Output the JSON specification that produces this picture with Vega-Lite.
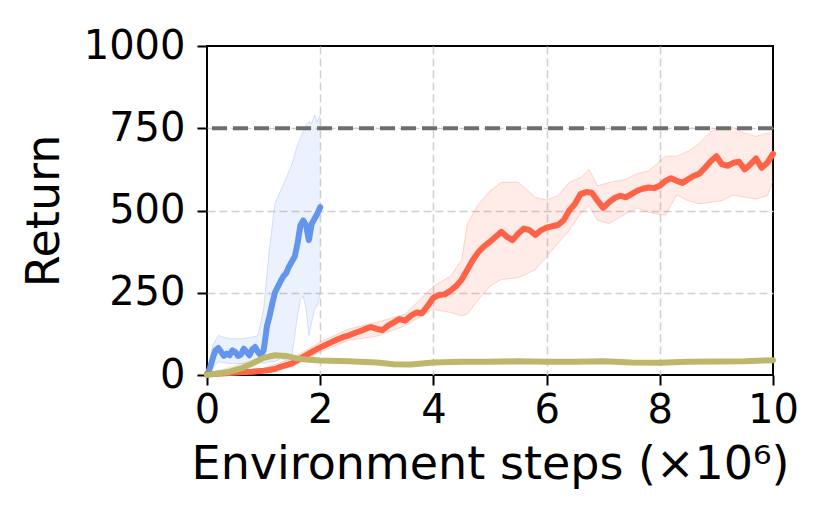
{
  "$schema": "https://vega.github.io/schema/vega-lite/v6.json",
  "width": 566,
  "height": 329,
  "autosize": {"type": "none"},
  "padding": {"left": 207, "top": 46, "right": 57, "bottom": 144},
  "background": "white",
  "config": {
    "view": {"stroke": "black", "strokeWidth": 2},
    "font": "DejaVu Sans",
    "axis": {
      "domain": false,
      "tickColor": "black",
      "tickWidth": 2,
      "tickSize": 10,
      "labelFont": "DejaVu Sans",
      "labelFontSize": 40,
      "labelColor": "black",
      "labelFlush": false,
      "titleFont": "DejaVu Sans",
      "titleFontSize": 46,
      "titleFontWeight": "normal",
      "titleColor": "black",
      "gridColor": "#d0d0d0",
      "gridWidth": 1.5,
      "gridDash": [8, 4]
    }
  },
  "datasets": {
    "lines": [
      {"series": "blue", "x": 0.0, "y": 0}, {"series": "blue", "x": 0.05, "y": 20}, {"series": "blue", "x": 0.1, "y": 50}, {"series": "blue", "x": 0.15, "y": 75}, {"series": "blue", "x": 0.2, "y": 82}, {"series": "blue", "x": 0.25, "y": 70}, {"series": "blue", "x": 0.3, "y": 58}, {"series": "blue", "x": 0.35, "y": 65}, {"series": "blue", "x": 0.4, "y": 60}, {"series": "blue", "x": 0.45, "y": 75}, {"series": "blue", "x": 0.5, "y": 70}, {"series": "blue", "x": 0.55, "y": 58}, {"series": "blue", "x": 0.6, "y": 62}, {"series": "blue", "x": 0.65, "y": 80}, {"series": "blue", "x": 0.7, "y": 70}, {"series": "blue", "x": 0.75, "y": 60}, {"series": "blue", "x": 0.8, "y": 78}, {"series": "blue", "x": 0.85, "y": 85}, {"series": "blue", "x": 0.9, "y": 70}, {"series": "blue", "x": 0.95, "y": 60}, {"series": "blue", "x": 1.0, "y": 75}, {"series": "blue", "x": 1.03, "y": 110}, {"series": "blue", "x": 1.06, "y": 150}, {"series": "blue", "x": 1.1, "y": 175}, {"series": "blue", "x": 1.15, "y": 215}, {"series": "blue", "x": 1.2, "y": 250}, {"series": "blue", "x": 1.25, "y": 268}, {"series": "blue", "x": 1.3, "y": 285}, {"series": "blue", "x": 1.35, "y": 300}, {"series": "blue", "x": 1.4, "y": 310}, {"series": "blue", "x": 1.45, "y": 330}, {"series": "blue", "x": 1.5, "y": 345}, {"series": "blue", "x": 1.55, "y": 360}, {"series": "blue", "x": 1.6, "y": 400}, {"series": "blue", "x": 1.65, "y": 455}, {"series": "blue", "x": 1.7, "y": 470}, {"series": "blue", "x": 1.75, "y": 455}, {"series": "blue", "x": 1.8, "y": 410}, {"series": "blue", "x": 1.85, "y": 460}, {"series": "blue", "x": 1.9, "y": 475}, {"series": "blue", "x": 1.95, "y": 490}, {"series": "blue", "x": 2.0, "y": 510},

      {"series": "red", "x": 0.0, "y": 2}, {"series": "red", "x": 0.2, "y": 4}, {"series": "red", "x": 0.4, "y": 6}, {"series": "red", "x": 0.6, "y": 8}, {"series": "red", "x": 0.8, "y": 10}, {"series": "red", "x": 1.0, "y": 13}, {"series": "red", "x": 1.1, "y": 15}, {"series": "red", "x": 1.2, "y": 18}, {"series": "red", "x": 1.3, "y": 25}, {"series": "red", "x": 1.4, "y": 30}, {"series": "red", "x": 1.5, "y": 35}, {"series": "red", "x": 1.6, "y": 45}, {"series": "red", "x": 1.7, "y": 55}, {"series": "red", "x": 1.8, "y": 65}, {"series": "red", "x": 1.9, "y": 75}, {"series": "red", "x": 2.0, "y": 84}, {"series": "red", "x": 2.1, "y": 92}, {"series": "red", "x": 2.2, "y": 100}, {"series": "red", "x": 2.3, "y": 108}, {"series": "red", "x": 2.4, "y": 115}, {"series": "red", "x": 2.5, "y": 120}, {"series": "red", "x": 2.6, "y": 127}, {"series": "red", "x": 2.7, "y": 133}, {"series": "red", "x": 2.8, "y": 140}, {"series": "red", "x": 2.9, "y": 146}, {"series": "red", "x": 3.0, "y": 140}, {"series": "red", "x": 3.1, "y": 136}, {"series": "red", "x": 3.2, "y": 150}, {"series": "red", "x": 3.3, "y": 160}, {"series": "red", "x": 3.4, "y": 170}, {"series": "red", "x": 3.5, "y": 165}, {"series": "red", "x": 3.6, "y": 180}, {"series": "red", "x": 3.7, "y": 190}, {"series": "red", "x": 3.8, "y": 188}, {"series": "red", "x": 3.9, "y": 210}, {"series": "red", "x": 4.0, "y": 235}, {"series": "red", "x": 4.1, "y": 243}, {"series": "red", "x": 4.2, "y": 245}, {"series": "red", "x": 4.3, "y": 256}, {"series": "red", "x": 4.4, "y": 270}, {"series": "red", "x": 4.5, "y": 290}, {"series": "red", "x": 4.6, "y": 320}, {"series": "red", "x": 4.7, "y": 350}, {"series": "red", "x": 4.8, "y": 375}, {"series": "red", "x": 4.9, "y": 392}, {"series": "red", "x": 5.0, "y": 405}, {"series": "red", "x": 5.1, "y": 420}, {"series": "red", "x": 5.2, "y": 435}, {"series": "red", "x": 5.3, "y": 420}, {"series": "red", "x": 5.4, "y": 410}, {"series": "red", "x": 5.5, "y": 430}, {"series": "red", "x": 5.6, "y": 445}, {"series": "red", "x": 5.7, "y": 440}, {"series": "red", "x": 5.8, "y": 426}, {"series": "red", "x": 5.9, "y": 440}, {"series": "red", "x": 6.0, "y": 448}, {"series": "red", "x": 6.1, "y": 452}, {"series": "red", "x": 6.2, "y": 456}, {"series": "red", "x": 6.3, "y": 470}, {"series": "red", "x": 6.4, "y": 500}, {"series": "red", "x": 6.5, "y": 520}, {"series": "red", "x": 6.6, "y": 550}, {"series": "red", "x": 6.7, "y": 556}, {"series": "red", "x": 6.8, "y": 554}, {"series": "red", "x": 6.9, "y": 530}, {"series": "red", "x": 7.0, "y": 508}, {"series": "red", "x": 7.1, "y": 525}, {"series": "red", "x": 7.2, "y": 538}, {"series": "red", "x": 7.3, "y": 545}, {"series": "red", "x": 7.4, "y": 540}, {"series": "red", "x": 7.5, "y": 550}, {"series": "red", "x": 7.6, "y": 560}, {"series": "red", "x": 7.7, "y": 566}, {"series": "red", "x": 7.8, "y": 570}, {"series": "red", "x": 7.9, "y": 568}, {"series": "red", "x": 8.0, "y": 575}, {"series": "red", "x": 8.1, "y": 590}, {"series": "red", "x": 8.2, "y": 598}, {"series": "red", "x": 8.3, "y": 590}, {"series": "red", "x": 8.4, "y": 584}, {"series": "red", "x": 8.5, "y": 595}, {"series": "red", "x": 8.6, "y": 605}, {"series": "red", "x": 8.7, "y": 612}, {"series": "red", "x": 8.8, "y": 630}, {"series": "red", "x": 8.9, "y": 650}, {"series": "red", "x": 9.0, "y": 665}, {"series": "red", "x": 9.1, "y": 640}, {"series": "red", "x": 9.2, "y": 636}, {"series": "red", "x": 9.3, "y": 645}, {"series": "red", "x": 9.4, "y": 648}, {"series": "red", "x": 9.5, "y": 625}, {"series": "red", "x": 9.6, "y": 640}, {"series": "red", "x": 9.7, "y": 658}, {"series": "red", "x": 9.8, "y": 630}, {"series": "red", "x": 9.9, "y": 645}, {"series": "red", "x": 10.0, "y": 672},

      {"series": "olive", "x": 0.0, "y": 0}, {"series": "olive", "x": 0.2, "y": 5}, {"series": "olive", "x": 0.4, "y": 10}, {"series": "olive", "x": 0.6, "y": 20}, {"series": "olive", "x": 0.8, "y": 35}, {"series": "olive", "x": 1.0, "y": 52}, {"series": "olive", "x": 1.2, "y": 60}, {"series": "olive", "x": 1.4, "y": 58}, {"series": "olive", "x": 1.6, "y": 50}, {"series": "olive", "x": 1.8, "y": 46}, {"series": "olive", "x": 2.0, "y": 44}, {"series": "olive", "x": 2.5, "y": 42}, {"series": "olive", "x": 3.0, "y": 38}, {"series": "olive", "x": 3.3, "y": 33}, {"series": "olive", "x": 3.6, "y": 32}, {"series": "olive", "x": 4.0, "y": 38}, {"series": "olive", "x": 4.5, "y": 40}, {"series": "olive", "x": 5.0, "y": 40}, {"series": "olive", "x": 5.5, "y": 42}, {"series": "olive", "x": 6.0, "y": 40}, {"series": "olive", "x": 6.5, "y": 40}, {"series": "olive", "x": 7.0, "y": 42}, {"series": "olive", "x": 7.5, "y": 38}, {"series": "olive", "x": 8.0, "y": 37}, {"series": "olive", "x": 8.5, "y": 40}, {"series": "olive", "x": 9.0, "y": 41}, {"series": "olive", "x": 9.5, "y": 42}, {"series": "olive", "x": 10.0, "y": 45}
    ],
    "bands": [
      {"series": "blue", "x": 0.0, "lo": 0, "hi": 0}, {"series": "blue", "x": 0.1, "lo": 20, "hi": 90}, {"series": "blue", "x": 0.2, "lo": 40, "hi": 120}, {"series": "blue", "x": 0.4, "lo": 35, "hi": 110}, {"series": "blue", "x": 0.6, "lo": 35, "hi": 110}, {"series": "blue", "x": 0.8, "lo": 35, "hi": 115}, {"series": "blue", "x": 0.9, "lo": 40, "hi": 120}, {"series": "blue", "x": 1.0, "lo": 35, "hi": 200}, {"series": "blue", "x": 1.1, "lo": 40, "hi": 380}, {"series": "blue", "x": 1.2, "lo": 40, "hi": 520}, {"series": "blue", "x": 1.3, "lo": 50, "hi": 560}, {"series": "blue", "x": 1.4, "lo": 45, "hi": 600}, {"series": "blue", "x": 1.5, "lo": 60, "hi": 640}, {"series": "blue", "x": 1.6, "lo": 180, "hi": 700}, {"series": "blue", "x": 1.65, "lo": 230, "hi": 720}, {"series": "blue", "x": 1.7, "lo": 240, "hi": 740}, {"series": "blue", "x": 1.75, "lo": 200, "hi": 760}, {"series": "blue", "x": 1.8, "lo": 120, "hi": 770}, {"series": "blue", "x": 1.85, "lo": 160, "hi": 765}, {"series": "blue", "x": 1.9, "lo": 200, "hi": 790}, {"series": "blue", "x": 1.95, "lo": 210, "hi": 770}, {"series": "blue", "x": 2.0, "lo": 250, "hi": 790},

      {"series": "red", "x": 0.0, "lo": 0, "hi": 5}, {"series": "red", "x": 0.5, "lo": 4, "hi": 12}, {"series": "red", "x": 1.0, "lo": 8, "hi": 20}, {"series": "red", "x": 1.5, "lo": 25, "hi": 50}, {"series": "red", "x": 2.0, "lo": 70, "hi": 100}, {"series": "red", "x": 2.5, "lo": 105, "hi": 140}, {"series": "red", "x": 3.0, "lo": 118, "hi": 160}, {"series": "red", "x": 3.5, "lo": 150, "hi": 185}, {"series": "red", "x": 4.0, "lo": 200, "hi": 270}, {"series": "red", "x": 4.3, "lo": 190, "hi": 300}, {"series": "red", "x": 4.5, "lo": 180, "hi": 350}, {"series": "red", "x": 4.6, "lo": 185, "hi": 460}, {"series": "red", "x": 4.8, "lo": 230, "hi": 520}, {"series": "red", "x": 5.0, "lo": 270, "hi": 560}, {"series": "red", "x": 5.2, "lo": 290, "hi": 585}, {"series": "red", "x": 5.5, "lo": 296, "hi": 586}, {"series": "red", "x": 5.8, "lo": 320, "hi": 540}, {"series": "red", "x": 6.0, "lo": 360, "hi": 532}, {"series": "red", "x": 6.2, "lo": 400, "hi": 545}, {"series": "red", "x": 6.4, "lo": 440, "hi": 586}, {"series": "red", "x": 6.6, "lo": 490, "hi": 600}, {"series": "red", "x": 6.75, "lo": 515, "hi": 625}, {"series": "red", "x": 6.9, "lo": 470, "hi": 575}, {"series": "red", "x": 7.1, "lo": 460, "hi": 585}, {"series": "red", "x": 7.4, "lo": 490, "hi": 595}, {"series": "red", "x": 7.6, "lo": 508, "hi": 612}, {"series": "red", "x": 7.8, "lo": 495, "hi": 620}, {"series": "red", "x": 8.0, "lo": 488, "hi": 650}, {"series": "red", "x": 8.1, "lo": 486, "hi": 665}, {"series": "red", "x": 8.3, "lo": 547, "hi": 665}, {"series": "red", "x": 8.5, "lo": 530, "hi": 680}, {"series": "red", "x": 8.7, "lo": 520, "hi": 705}, {"series": "red", "x": 8.9, "lo": 525, "hi": 740}, {"series": "red", "x": 9.1, "lo": 530, "hi": 750}, {"series": "red", "x": 9.3, "lo": 547, "hi": 752}, {"series": "red", "x": 9.5, "lo": 540, "hi": 735}, {"series": "red", "x": 9.7, "lo": 535, "hi": 725}, {"series": "red", "x": 9.9, "lo": 545, "hi": 735}, {"series": "red", "x": 10.0, "lo": 590, "hi": 735},

      {"series": "olive", "x": 0.0, "lo": 0, "hi": 2}, {"series": "olive", "x": 1.0, "lo": 48, "hi": 56}, {"series": "olive", "x": 1.2, "lo": 56, "hi": 64}, {"series": "olive", "x": 2.0, "lo": 40, "hi": 48}, {"series": "olive", "x": 3.5, "lo": 29, "hi": 36}, {"series": "olive", "x": 5.0, "lo": 36, "hi": 44}, {"series": "olive", "x": 7.0, "lo": 38, "hi": 46}, {"series": "olive", "x": 8.0, "lo": 33, "hi": 41}, {"series": "olive", "x": 10.0, "lo": 41, "hi": 49}
    ]
  },
  "layer": [
    {
      "data": {"name": "bands"},
      "mark": {"type": "area", "fillOpacity": 0.12},
      "encoding": {
        "x": {"field": "x", "type": "quantitative", "scale": {"domain": [0, 10], "nice": false},
          "axis": {"values": [0, 2, 4, 6, 8, 10], "format": "d", "title": "Environment steps (×10⁶)", "labelPadding": 5, "titlePadding": 12, "grid": true,
            "gridOpacity": {"condition": {"test": "datum.value == 0 || datum.value == 10", "value": 0}, "value": 1}}},
        "y": {"field": "lo", "type": "quantitative", "scale": {"domain": [0, 1000], "nice": false},
          "axis": {"values": [0, 250, 500, 750, 1000], "format": "d", "title": "Return", "labelPadding": 12, "titlePadding": 15, "grid": true,
            "gridOpacity": {"condition": {"test": "datum.value == 0 || datum.value == 1000", "value": 0}, "value": 1}}},
        "y2": {"field": "hi"},
        "color": {"field": "series", "type": "nominal", "legend": null,
          "scale": {"domain": ["blue", "red", "olive"], "range": ["#6495ED", "#FF6347", "#BDB76B"]}}
      }
    },
    {
      "data": {"name": "bands"},
      "mark": {"type": "line", "strokeWidth": 1, "opacity": 0.25},
      "encoding": {
        "x": {"field": "x", "type": "quantitative"},
        "y": {"field": "lo", "type": "quantitative"},
        "color": {"field": "series", "type": "nominal"}
      }
    },
    {
      "data": {"name": "bands"},
      "mark": {"type": "line", "strokeWidth": 1, "opacity": 0.25},
      "encoding": {
        "x": {"field": "x", "type": "quantitative"},
        "y": {"field": "hi", "type": "quantitative"},
        "color": {"field": "series", "type": "nominal"}
      }
    },
    {
      "data": {"name": "lines"},
      "mark": {"type": "line", "strokeWidth": 6, "strokeJoin": "round", "strokeCap": "round"},
      "encoding": {
        "x": {"field": "x", "type": "quantitative"},
        "y": {"field": "y", "type": "quantitative"},
        "color": {"field": "series", "type": "nominal"}
      }
    },
    {
      "data": {"values": [{"ref": 750}]},
      "mark": {"type": "rule", "color": "#6e6e6e", "strokeWidth": 4, "strokeDash": [15, 6]},
      "encoding": {
        "y": {"field": "ref", "type": "quantitative"}
      }
    }
  ]
}
